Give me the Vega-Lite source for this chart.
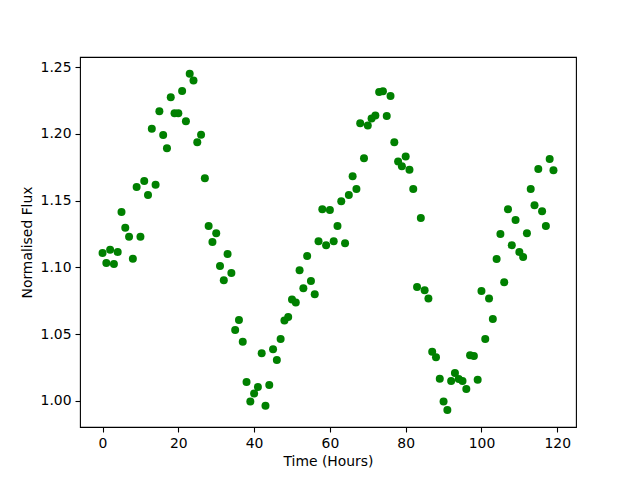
{
  "$schema": "https://vega.github.io/schema/vega-lite/v6.json",
  "autosize": {"type": "none"},
  "width": 496,
  "height": 370,
  "padding": {"left": 80, "top": 57, "right": 64, "bottom": 53},
  "background": "white",
  "config": {
    "view": {"stroke": "black", "strokeWidth": 1.1},
    "font": "DejaVu Sans",
    "axis": {
      "domain": false,
      "grid": false,
      "ticks": true,
      "tickColor": "black",
      "tickWidth": 1.1,
      "tickSize": 5,
      "labelFont": "DejaVu Sans",
      "labelFontSize": 13.9,
      "labelColor": "black",
      "labelPadding": 4,
      "titleFont": "DejaVu Sans",
      "titleFontSize": 13.9,
      "titleFontWeight": "normal",
      "titleColor": "black"
    }
  },
  "data": {
    "values": [
      {"hour": 0, "flux": 1.1107}, {"hour": 1, "flux": 1.1032}, {"hour": 2, "flux": 1.1131}, {"hour": 3, "flux": 1.1024},
      {"hour": 4, "flux": 1.1114}, {"hour": 5, "flux": 1.1414}, {"hour": 6, "flux": 1.1296}, {"hour": 7, "flux": 1.1229},
      {"hour": 8, "flux": 1.1064}, {"hour": 9, "flux": 1.1601}, {"hour": 10, "flux": 1.1229}, {"hour": 11, "flux": 1.1646},
      {"hour": 12, "flux": 1.1541}, {"hour": 13, "flux": 1.2038}, {"hour": 14, "flux": 1.1618}, {"hour": 15, "flux": 1.2170},
      {"hour": 16, "flux": 1.1991}, {"hour": 17, "flux": 1.1893}, {"hour": 18, "flux": 1.2275}, {"hour": 19, "flux": 1.2155},
      {"hour": 20, "flux": 1.2155}, {"hour": 21, "flux": 1.2322}, {"hour": 22, "flux": 1.2095}, {"hour": 23, "flux": 1.2450},
      {"hour": 24, "flux": 1.2400}, {"hour": 25, "flux": 1.1938}, {"hour": 26, "flux": 1.1993}, {"hour": 27, "flux": 1.1668},
      {"hour": 28, "flux": 1.1309}, {"hour": 29, "flux": 1.1189}, {"hour": 30, "flux": 1.1256}, {"hour": 31, "flux": 1.1009},
      {"hour": 32, "flux": 1.0904}, {"hour": 33, "flux": 1.1099}, {"hour": 34, "flux": 1.0957}, {"hour": 35, "flux": 1.0530},
      {"hour": 36, "flux": 1.0605}, {"hour": 37, "flux": 1.0442}, {"hour": 38, "flux": 1.0140}, {"hour": 39, "flux": 0.9995},
      {"hour": 40, "flux": 1.0055}, {"hour": 41, "flux": 1.0103}, {"hour": 42, "flux": 1.0357}, {"hour": 43, "flux": 0.9963},
      {"hour": 44, "flux": 1.0118}, {"hour": 45, "flux": 1.0387}, {"hour": 46, "flux": 1.0305}, {"hour": 47, "flux": 1.0462},
      {"hour": 48, "flux": 1.0602}, {"hour": 49, "flux": 1.0627}, {"hour": 50, "flux": 1.0759}, {"hour": 51, "flux": 1.0736},
      {"hour": 52, "flux": 1.0979}, {"hour": 53, "flux": 1.0844}, {"hour": 54, "flux": 1.1084}, {"hour": 55, "flux": 1.0897},
      {"hour": 56, "flux": 1.0799}, {"hour": 57, "flux": 1.1196}, {"hour": 58, "flux": 1.1436}, {"hour": 59, "flux": 1.1166},
      {"hour": 60, "flux": 1.1429}, {"hour": 61, "flux": 1.1196}, {"hour": 62, "flux": 1.1309}, {"hour": 63, "flux": 1.1496},
      {"hour": 64, "flux": 1.1181}, {"hour": 65, "flux": 1.1541}, {"hour": 66, "flux": 1.1683}, {"hour": 67, "flux": 1.1586},
      {"hour": 68, "flux": 1.2080}, {"hour": 69, "flux": 1.1818}, {"hour": 70, "flux": 1.2062}, {"hour": 71, "flux": 1.2115},
      {"hour": 72, "flux": 1.2137}, {"hour": 73, "flux": 1.2313}, {"hour": 74, "flux": 1.2320}, {"hour": 75, "flux": 1.2133},
      {"hour": 76, "flux": 1.2283}, {"hour": 77, "flux": 1.1938}, {"hour": 78, "flux": 1.1793}, {"hour": 79, "flux": 1.1758},
      {"hour": 80, "flux": 1.1830}, {"hour": 81, "flux": 1.1731}, {"hour": 82, "flux": 1.1586}, {"hour": 83, "flux": 1.0852},
      {"hour": 84, "flux": 1.1369}, {"hour": 85, "flux": 1.0829}, {"hour": 86, "flux": 1.0766}, {"hour": 87, "flux": 1.0367},
      {"hour": 88, "flux": 1.0327}, {"hour": 89, "flux": 1.0165}, {"hour": 90, "flux": 0.9995}, {"hour": 91, "flux": 0.9930},
      {"hour": 92, "flux": 1.0148}, {"hour": 93, "flux": 1.0208}, {"hour": 94, "flux": 1.0163}, {"hour": 95, "flux": 1.0148},
      {"hour": 96, "flux": 1.0088}, {"hour": 97, "flux": 1.0342}, {"hour": 98, "flux": 1.0335}, {"hour": 99, "flux": 1.0157},
      {"hour": 100, "flux": 1.0822}, {"hour": 101, "flux": 1.0462}, {"hour": 102, "flux": 1.0766}, {"hour": 103, "flux": 1.0612},
      {"hour": 104, "flux": 1.1062}, {"hour": 105, "flux": 1.1249}, {"hour": 106, "flux": 1.0889}, {"hour": 107, "flux": 1.1436},
      {"hour": 108, "flux": 1.1166}, {"hour": 109, "flux": 1.1354}, {"hour": 110, "flux": 1.1114}, {"hour": 111, "flux": 1.1077},
      {"hour": 112, "flux": 1.1256}, {"hour": 113, "flux": 1.1586}, {"hour": 114, "flux": 1.1466}, {"hour": 115, "flux": 1.1736},
      {"hour": 116, "flux": 1.1421}, {"hour": 117, "flux": 1.1309}, {"hour": 118, "flux": 1.1811}, {"hour": 119, "flux": 1.1728}
    ]
  },
  "mark": {"type": "circle", "color": "#008000", "opacity": 1, "size": 64},
  "encoding": {
    "x": {
      "field": "hour",
      "type": "quantitative",
      "title": "Time (Hours)",
      "scale": {"domain": [-5.95, 124.95], "nice": false, "zero": false},
      "axis": {"values": [0, 20, 40, 60, 80, 100, 120], "format": "d", "titlePadding": 5}
    },
    "y": {
      "field": "flux",
      "type": "quantitative",
      "title": "Normalised Flux",
      "scale": {"domain": [0.98035, 1.2576], "nice": false, "zero": false},
      "axis": {"values": [1.0, 1.05, 1.1, 1.15, 1.2, 1.25], "format": ".2f", "titlePadding": 6}
    }
  }
}
